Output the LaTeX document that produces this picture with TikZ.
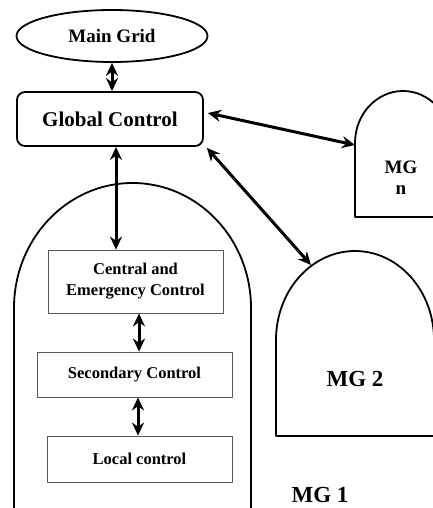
\documentclass[tikz,border=0pt]{standalone}
\usepackage{fontspec}
\setmainfont{Liberation Serif}
\usetikzlibrary{shapes.geometric,arrows.meta}

\begin{document}
\begin{tikzpicture}[x=1pt,y=-1pt,line join=round,
	>={Stealth[length=13pt,width=12pt]},
	lbl/.style={font=\bfseries\fontsize{16.5}{21}\selectfont,align=center,inner sep=0pt},
	ctrlbox/.style={draw=black!65,line width=.8pt,lbl},
	mgline/.style={line width=1.8pt},
	link/.style={<->,line width=3pt}]
	\useasboundingbox (0,0) rectangle (433,508);
	% microgrids
	\draw[mgline] (14,508)--(14,308) arc[start angle=180,end angle=0,x radius=118.5pt,y radius=125pt]--(251,508);
	\draw[mgline] (276,436)--(276,340) arc[start angle=180,end angle=0,x radius=79pt,y radius=89pt]--(434,436)--cycle;
	\draw[mgline] (355,217)--(355,143) arc[start angle=180,end angle=0,x radius=48pt,y radius=52pt]--(451,217)--cycle;
	\coordinate (mgnin) at (355,145);
	\coordinate (mgtwoin) at (311,265);
	% nodes
	\node[ellipse,draw,mgline,minimum width=191pt,minimum height=52pt,lbl,font=\bfseries\fontsize{19}{21}\selectfont] (grid) at (112,36) {Main Grid};
	\node[draw,mgline,rounded corners=8pt,minimum width=186pt,minimum height=54pt,lbl,font=\bfseries\fontsize{21}{23}\selectfont] (glob) at (110,119) {Global Control};
	\node[ctrlbox,minimum width=175pt,minimum height=63pt] (cent) at (135.5,281.5) {Central and\\Emergency Control};
	\node[ctrlbox,minimum width=195pt,minimum height=45pt] (sec) at (134.5,374.5) {Secondary Control};
	\node[ctrlbox,minimum width=185pt,minimum height=46pt] (loc) at (139.5,459) {Local control};
	\node[lbl,font=\bfseries\fontsize{23}{24}\selectfont] (mgone) at (320,495) {MG 1};
	\node[lbl,font=\bfseries\fontsize{23}{24}\selectfont] (mgtwo) at (355,379) {MG 2};
	\node[lbl,font=\bfseries\fontsize{19}{21}\selectfont] (mgn) at (401,178) {MG\\n};
	% links
	\draw[link] (grid.south)--(grid.south |- glob.north);
	\draw[link] ([xshift=6pt]glob.south)--([xshift=6pt]glob.south |- cent.north);
	\draw[link] ([xshift=3.5pt]cent.south)--([xshift=3.5pt]cent.south |- sec.north);
	\draw[link] ([xshift=3.5pt]sec.south)--([xshift=3.5pt]sec.south |- loc.north);
	\draw[link] ([shift={(4pt,6pt)}]glob.east)--(mgnin);
	\draw[link] ([shift={(3pt,-1pt)}]glob.south east)--(mgtwoin);
\end{tikzpicture}
\end{document}
